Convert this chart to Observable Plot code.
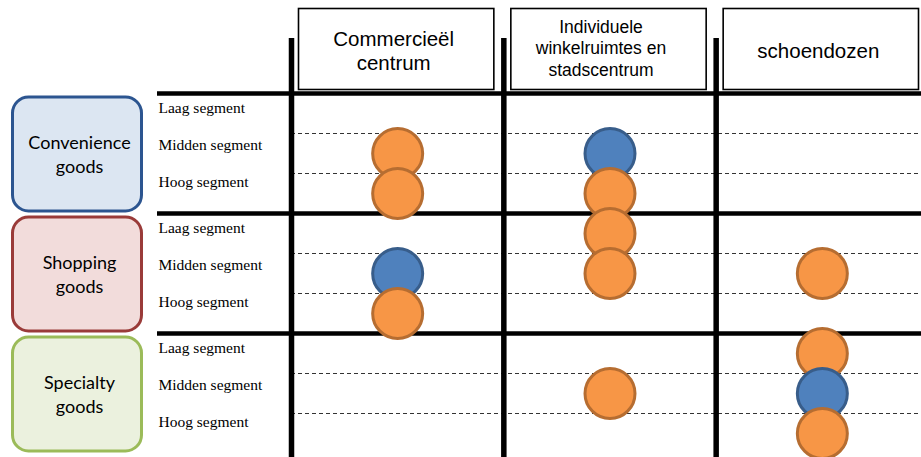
<!DOCTYPE html>
<html>
<head>
<meta charset="utf-8">
<script src="https://cdn.jsdelivr.net/npm/d3@7"></script>
<script src="https://cdn.jsdelivr.net/npm/@observablehq/plot@0.6"></script>
<style>
  html, body { margin: 0; padding: 0; background: #fff; }
  #chart svg { display: block; }
</style>
</head>
<body>
<div id="chart"></div>
<script>
// ---- data ----
const columns = ["Commercieël centrum", "Individuele winkelruimtes en stadscentrum", "schoendozen"];
const columnLabels = ["Commercieël\ncentrum", "Individuele\nwinkelruimtes en\nstadscentrum", "schoendozen"];
const groups = ["Convenience goods", "Shopping goods", "Specialty goods"];
const groupLabels = ["Convenience\ngoods", "Shopping\ngoods", "Specialty\ngoods"];
const segments = ["Laag segment", "Midden segment", "Hoog segment"];
const kinds = ["oranje", "blauw"];

// [group, segment, column]
const orangeDots = [
  ["Convenience goods", "Midden segment", "Commercieël centrum"],
  ["Convenience goods", "Hoog segment", "Commercieël centrum"],
  ["Convenience goods", "Hoog segment", "Individuele winkelruimtes en stadscentrum"],
  ["Shopping goods", "Laag segment", "Individuele winkelruimtes en stadscentrum"],
  ["Shopping goods", "Midden segment", "Individuele winkelruimtes en stadscentrum"],
  ["Shopping goods", "Midden segment", "schoendozen"],
  ["Shopping goods", "Hoog segment", "Commercieël centrum"],
  ["Specialty goods", "Laag segment", "schoendozen"],
  ["Specialty goods", "Midden segment", "Individuele winkelruimtes en stadscentrum"],
  ["Specialty goods", "Hoog segment", "schoendozen"]
];
const blueDots = [
  ["Convenience goods", "Midden segment", "Individuele winkelruimtes en stadscentrum"],
  ["Shopping goods", "Midden segment", "Commercieël centrum"],
  ["Specialty goods", "Midden segment", "schoendozen"]
];

// ---- derived tables ----
const rowIndex = (g, s) => groups.indexOf(g) * segments.length + segments.indexOf(s);
const colIndex = (c) => columns.indexOf(c);
const dots = [
  ...orangeDots.map(([g, s, c]) => ({g, s, c, kind: kinds[0]})),
  ...blueDots.map(([g, s, c]) => ({g, s, c, kind: kinds[1]}))
].map(d => ({...d, row: rowIndex(d.g, d.s), col: colIndex(d.c)}))
 .sort((a, b) => a.row - b.row);

const rows = groups.flatMap(g => segments.map(s => ({g, s, row: rowIndex(g, s)})));
const groupStarts = groups.map((g, i) => i * segments.length);
const dashedRows = rows.filter(r => segments.indexOf(r.s) > 0).map(r => r.row);

const groupStyles = [
  {fill: "#dce6f2", stroke: "#2c5590"},
  {fill: "#f2dcdb", stroke: "#9a3b39"},
  {fill: "#ebf1de", stroke: "#9bbb59"}
];
const segDy = [-5, -8, -11];

const marks = [];

// group boxes
groups.forEach((g, i) => {
  marks.push(Plot.rect([g], {
    y1: () => i * segments.length, y2: () => (i + 1) * segments.length,
    insetLeft: 12.5, insetRight: 921 - 141.5, insetTop: 4, insetBottom: 2,
    rx: 16, fill: groupStyles[i].fill, stroke: groupStyles[i].stroke, strokeWidth: 3
  }));
});
marks.push(Plot.text(groups, {
  y: (d, i) => i * segments.length + segments.length / 2,
  text: (d, i) => groupLabels[i],
  frameAnchor: "left", dx: 79, textAnchor: "middle", lineAnchor: "middle",
  lineHeight: 1.35, fontFamily: "Lato, sans-serif", fontSize: 18, fill: "#000"
}));

// row labels
segments.forEach((s, si) => {
  marks.push(Plot.text(rows.filter(r => r.s === s), {
    y: r => r.row + 0.5, text: r => r.s,
    frameAnchor: "left", dx: 158, dy: segDy[si], textAnchor: "start",
    fontFamily: "'Liberation Serif', 'Times New Roman', serif", fontSize: 15.5, fill: "#000"
  }));
});

// column headers
marks.push(Plot.rect(columns, {
  x1: (d, i) => i, x2: (d, i) => i + 1,
  insetLeft: 7.5, insetRight: 9.5, insetTop: 8.5, insetBottom: 457 - 89.5,
  fill: "#fff", stroke: "#000", strokeWidth: 1.6
}));
marks.push(Plot.text(columns.filter((c, i) => i !== 1), {
  x: c => colIndex(c) + 0.5, text: c => columnLabels[colIndex(c)],
  frameAnchor: "top", dy: 50, dx: -4, lineAnchor: "middle", lineHeight: 1.15,
  fontFamily: "'Liberation Sans', Arial, sans-serif", fontSize: 20.5, fill: "#000"
}));
marks.push(Plot.text(columns.filter((c, i) => i === 1), {
  x: c => colIndex(c) + 0.5, text: c => columnLabels[colIndex(c)],
  frameAnchor: "top", dy: 47, dx: -9, lineAnchor: "middle", lineHeight: 1.22,
  fontFamily: "'Liberation Sans', Arial, sans-serif", fontSize: 17.5, fill: "#000"
}));

// grid lines
marks.push(Plot.ruleY(dashedRows, {
  y: d => d, x1: 0, x2: columns.length,
  stroke: "#333", strokeWidth: 1, strokeDasharray: "4,3"
}));
marks.push(Plot.ruleY(groupStarts, {
  y: d => d, insetLeft: 157, stroke: "#000", strokeWidth: 4.5
}));
marks.push(Plot.ruleX(columns, {
  x: (d, i) => i, insetTop: 38, stroke: "#000", strokeWidth: 5.5
}));

// dots
marks.push(Plot.dot(dots, {
  x: d => d.col + 0.5, y: d => d.row + 0.5, r: 25,
  fill: "kind", stroke: d => d.kind === kinds[0] ? "#b66d31" : "#385d8a",
  strokeWidth: 3, fillOpacity: 1
}));

const chart = Plot.plot({
  width: 921, height: 457,
  marginTop: 0, marginBottom: 0, marginLeft: 0, marginRight: 0,
  x: {type: "linear", domain: [0, columns.length], range: [291, 928], axis: null},
  y: {type: "linear", domain: [0, groups.length * segments.length], range: [93, 453], axis: null},
  color: {domain: kinds, range: ["#f79646", "#4f81bd"]},
  style: {background: "#fff"},
  marks
});
document.getElementById("chart").appendChild(chart);
</script>
</body>
</html>
